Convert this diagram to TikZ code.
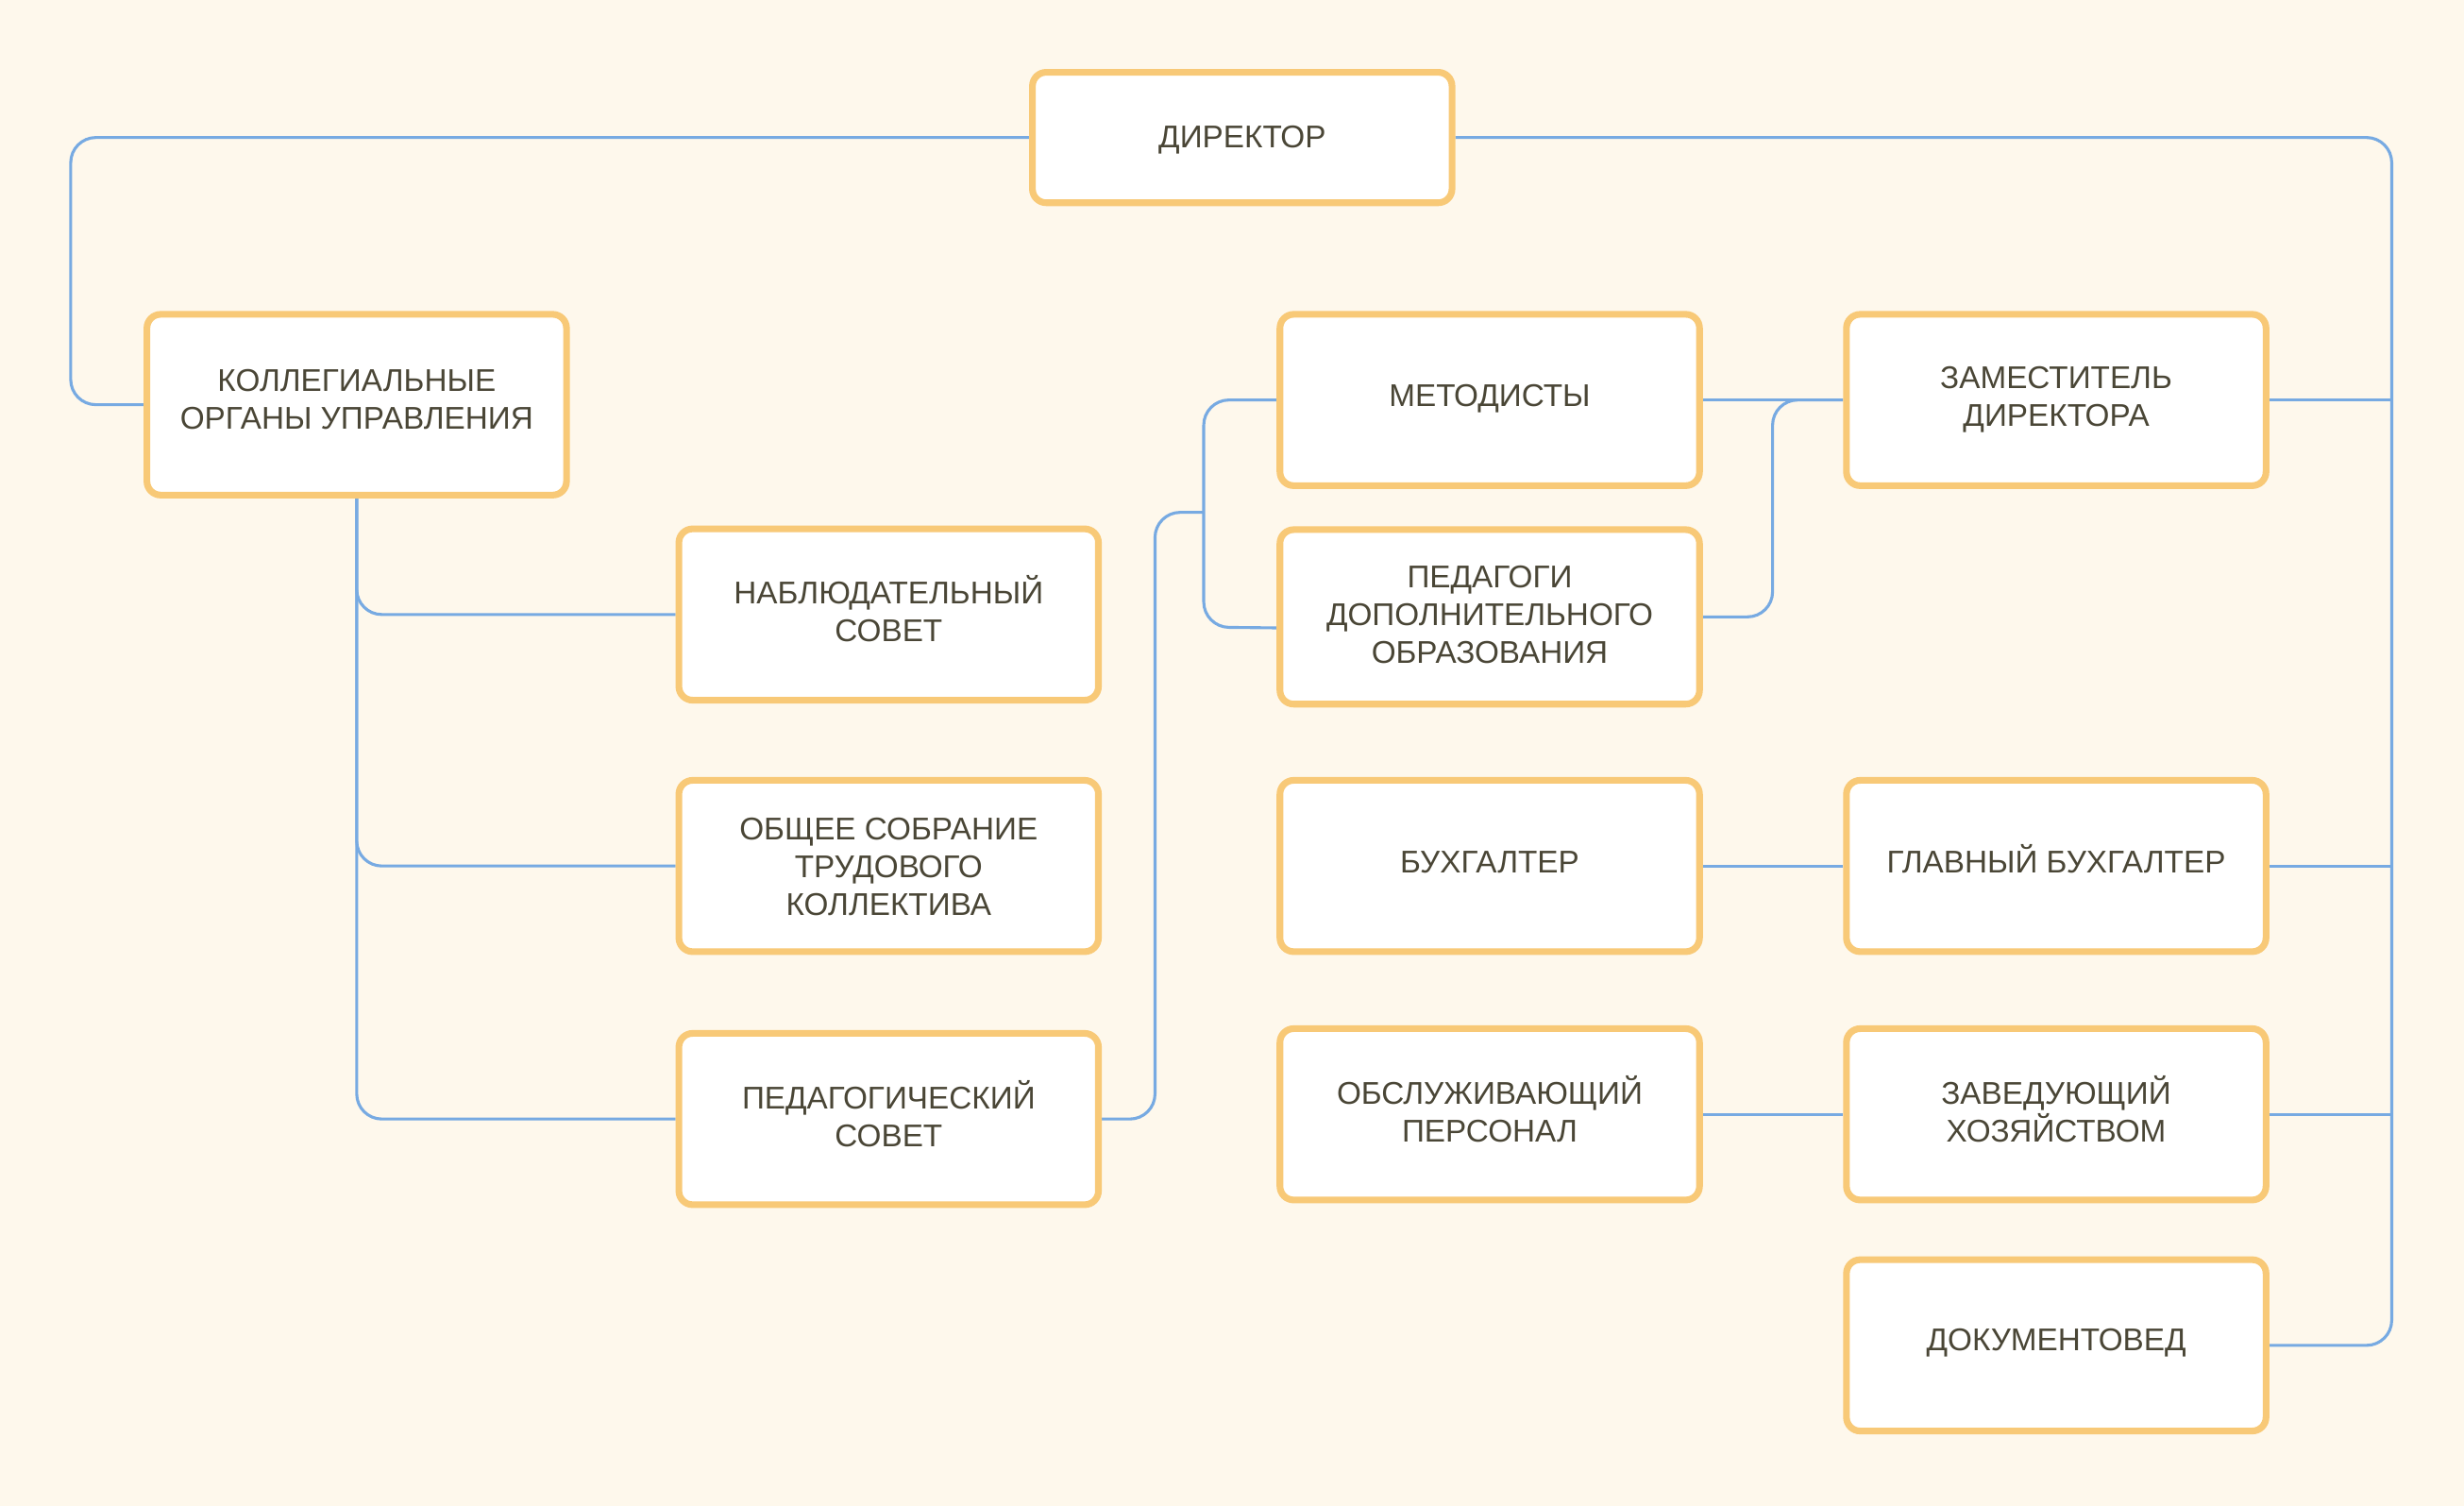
\documentclass[tikz,border=0pt]{standalone}
\usepackage{fontspec}
\setmainfont{Liberation Sans}
\definecolor{bgc}{HTML}{FEF8EC}
\definecolor{boxc}{HTML}{F8C977}
\definecolor{linec}{HTML}{77AAE2}
\definecolor{txt}{HTML}{4A4636}
\pgfdeclarelayer{back}
\pgfsetlayers{back,main}
% name, position, box height, text shift, text
\newcommand\mkbox[5]{%
  \node[box, minimum height=#3] (#1) at (#2) {};
  \node[lbl] (#1t) at ([yshift=#4]#1.center) {#5};}
\begin{document}
\begin{tikzpicture}[x=0.8pt,y=-0.8pt,
  box/.style={draw=boxc, fill=white, line width=3.4pt, rounded corners=7pt,
    minimum width=213.6pt, inner sep=0pt},
  lbl/.style={align=center, font=\fontsize{16}{19.2}\selectfont, text=txt, inner sep=0pt},
  conn/.style={draw=linec, line width=1.5pt, rounded corners=12.8pt}]
\useasboundingbox (0,0) rectangle (1568,958);
\begin{pgfonlayer}{back}
\fill[bgc] (0,0) rectangle (1568,958);
\end{pgfonlayer}
% nodes
\mkbox{dir}{790.5,87.5}{66.4pt}{-1.2pt}{ДИРЕКТОР}
\mkbox{kol}{227,257.5}{92pt}{2.8pt}{КОЛЛЕГИАЛЬНЫЕ\\ОРГАНЫ УПРАВЛЕНИЯ}
\mkbox{nab}{565.5,391}{87.2pt}{2.8pt}{НАБЛЮДАТЕЛЬНЫЙ\\СОВЕТ}
\mkbox{obs}{565.5,551}{87.2pt}{-0.4pt}{ОБЩЕЕ СОБРАНИЕ\\ТРУДОВОГО\\КОЛЛЕКТИВА}
\mkbox{ped}{565.5,712}{87.2pt}{2.8pt}{ПЕДАГОГИЧЕСКИЙ\\СОВЕТ}
\mkbox{met}{948,254.5}{87.2pt}{0.6pt}{МЕТОДИСТЫ}
\mkbox{pdo}{948,392.5}{88.8pt}{1.2pt}{ПЕДАГОГИ\\ДОПОЛНИТЕЛЬНОГО\\ОБРАЗОВАНИЯ}
\mkbox{buh}{948,551}{87.2pt}{2pt}{БУХГАЛТЕР}
\mkbox{obsl}{948,709}{87.2pt}{2.8pt}{ОБСЛУЖИВАЮЩИЙ\\ПЕРСОНАЛ}
\mkbox{zam}{1308.5,254.5}{87.2pt}{0.4pt}{ЗАМЕСТИТЕЛЬ\\ДИРЕКТОРА}
\mkbox{glav}{1308.5,551}{87.2pt}{3.6pt}{ГЛАВНЫЙ БУХГАЛТЕР}
\mkbox{zav}{1308.5,709}{87.2pt}{2.8pt}{ЗАВЕДУЮЩИЙ\\ХОЗЯЙСТВОМ}
\mkbox{doc}{1308.5,856}{87.2pt}{1.2pt}{ДОКУМЕНТОВЕД}
% connectors
\begin{pgfonlayer}{back}
\draw[conn] (dir.west) -| (45,257.5) -- (kol.west);
\draw[conn] (dir.east) -| (1522,856) -- (doc.east);
\draw[conn] (zam.east) -- (1522,254.5);
\draw[conn] (glav.east) -- (1522,551);
\draw[conn] (zav.east) -- (1522,709);
\draw[conn] (kol.south) |- (nab.west);
\draw[conn] (kol.south) |- (obs.west);
\draw[conn] (kol.south) |- (ped.west);
\draw[conn] (ped.east) -| (735,326) -- (766,326);
\draw[conn] (met.west) -| (766,399) -- ([yshift=-5.6pt]pdo.west);
\draw[conn] (met.east) -- (zam.west);
\draw[conn] (pdo.east) -| (1128,254.5) -- (zam.west);
\draw[conn] (buh.east) -- (glav.west);
\draw[conn] (obsl.east) -- (zav.west);
\end{pgfonlayer}
\end{tikzpicture}
\end{document}
